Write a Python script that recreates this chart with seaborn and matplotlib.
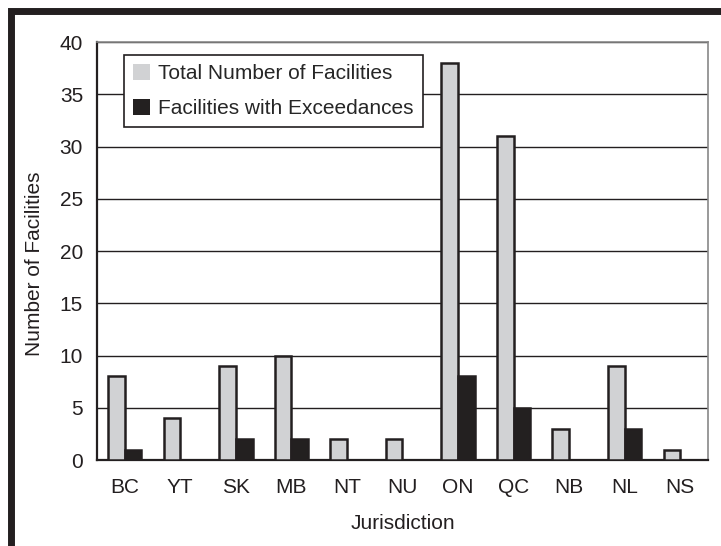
import matplotlib
matplotlib.use("Agg")
import matplotlib.pyplot as plt
import seaborn as sns
import pandas as pd
from matplotlib.patches import Rectangle
from matplotlib import font_manager

jurisdictions = ["BC", "YT", "SK", "MB", "NT", "NU", "ON", "QC", "NB", "NL", "NS"]
total_facilities = [8, 4, 9, 10, 2, 2, 38, 31, 3, 9, 1]
exceedance_facilities = [1, 0, 2, 2, 0, 0, 8, 5, 0, 3, 0]
series_names = ["Total Number of Facilities", "Facilities with Exceedances"]

sns.set_style("white")
names = {f.name for f in font_manager.fontManager.ttflist}
fam = "Liberation Sans Narrow" if "Liberation Sans Narrow" in names else "Liberation Sans"
plt.rcParams["font.family"] = [fam, "DejaVu Sans"]

df = pd.DataFrame({
    "Jurisdiction": jurisdictions * 2,
    "Count": total_facilities + exceedance_facilities,
    "Series": [series_names[0]] * len(jurisdictions) + [series_names[1]] * len(jurisdictions),
})

fig = plt.figure(figsize=(7.21, 5.46), dpi=100)
ax = fig.add_axes([0.1345, 0.1575, 0.8475, 0.7655])

palette = {series_names[0]: "#d1d2d4", series_names[1]: "#231f20"}
sns.barplot(data=df, x="Jurisdiction", y="Count", hue="Series", palette=palette,
            order=jurisdictions, hue_order=series_names, width=0.6,
            edgecolor="#231f20", linewidth=1.8, ax=ax, zorder=3)

ax.set_xlim(-0.5, len(jurisdictions) - 0.5)
ax.set_ylim(0, 40)
ax.set_yticks(range(0, 41, 5))
ax.yaxis.grid(True, color="#231f20", linewidth=1.0, zorder=0)
ax.set_axisbelow(True)
for s in ["left", "bottom"]:
    ax.spines[s].set_color("#231f20")
    ax.spines[s].set_linewidth(1.6)
for s in ["top", "right"]:
    ax.spines[s].set_color("#888888")
    ax.spines[s].set_linewidth(1.2)

ax.set_xticks(range(len(jurisdictions)))
ax.set_xticklabels(jurisdictions)
ax.set_xticks([i - 0.5 for i in range(len(jurisdictions) + 1)], minor=True)
ax.tick_params(axis="x", which="major", length=0, pad=13, labelsize=15, colors="#231f20")
ax.tick_params(axis="x", which="minor", length=6, width=1.4, direction="out", color="#231f20")
ax.tick_params(axis="y", which="major", length=6, width=1.4, direction="out", labelsize=15,
               color="#231f20", labelcolor="#231f20", pad=4)
ax.set_xlabel("Jurisdiction", fontsize=15, color="#231f20", labelpad=12)
ax.set_ylabel("Number of Facilities", fontsize=15, color="#231f20")
ax.yaxis.set_label_coords(-0.086, 0.47)

leg = ax.legend(loc="upper left", bbox_to_anchor=(0.044, 0.97), fontsize=15,
                frameon=True, fancybox=False, edgecolor="#231f20", framealpha=1,
                handlelength=0.8, handleheight=0.8, handletextpad=0.4,
                borderpad=0.45, labelspacing=0.75, borderaxespad=0)
leg.get_frame().set_linewidth(1.2)
for h in leg.legend_handles:
    h.set_edgecolor("none")

# outer thick frame (top and left edges visible)
fig.patches.append(Rectangle((11 / 721, -0.1), 1.2, 1 - 11 / 546 + 0.1,
                             transform=fig.transFigure, fill=False,
                             edgecolor="#231f20", linewidth=5, zorder=0))

fig.savefig("out.png", dpi=100)
